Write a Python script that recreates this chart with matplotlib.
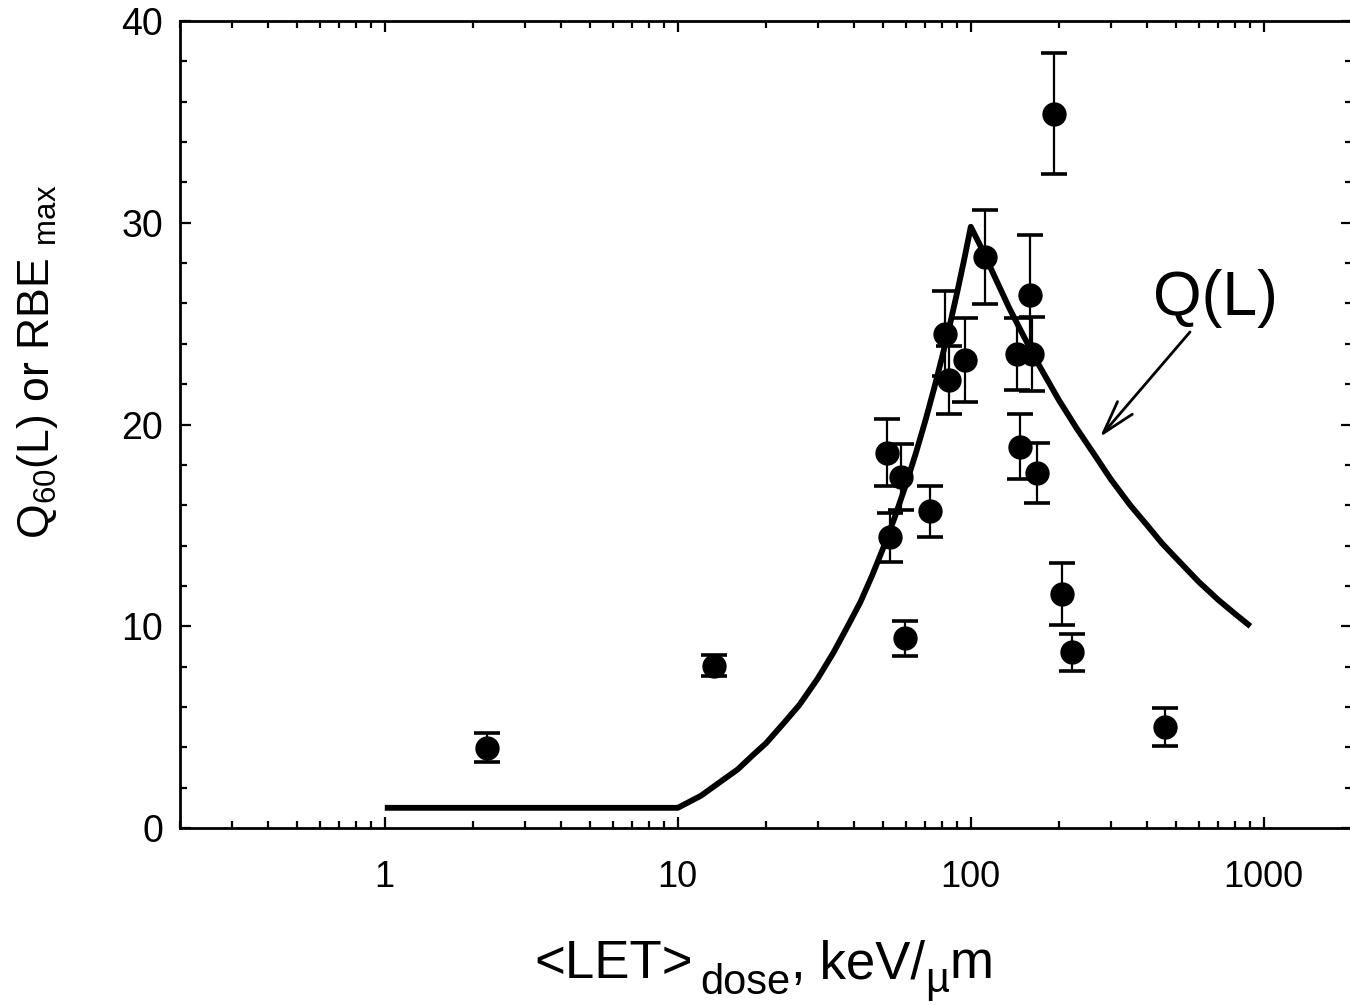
import matplotlib
matplotlib.use("Agg")
import matplotlib.pyplot as plt
from matplotlib.ticker import LogLocator, FixedLocator, NullFormatter, FixedFormatter

plt.rcParams['font.family'] = ['Liberation Sans', 'DejaVu Sans']
plt.rcParams['mathtext.fontset'] = 'custom'
plt.rcParams['mathtext.rm'] = 'Liberation Sans'
plt.rcParams['mathtext.it'] = 'Liberation Sans:italic'
plt.rcParams['mathtext.default'] = 'regular'

# ---- data ----
let_points = [2.24, 13.3, 51.6, 52.8, 58.0, 59.4, 72.4, 81.5, 84.1, 95.3,
              111.7, 143.8, 159.0, 161.8, 147.2, 168.3, 192.4, 205.0, 221.8, 461.7]
rbe_points = [3.97, 8.04, 18.6, 14.4, 17.4, 9.4, 15.7, 24.5, 22.2, 23.2,
              28.3, 23.5, 26.4, 23.5, 18.9, 17.6, 35.4, 11.6, 8.7, 5.0]
rbe_errors = [0.72, 0.52, 1.65, 1.22, 1.65, 0.87, 1.27, 2.1, 1.7, 2.1,
              2.35, 1.8, 3.0, 1.85, 1.6, 1.5, 3.0, 1.55, 0.9, 0.95]

q_curve_let = [1, 10, 12, 14, 16, 18, 20, 23, 26, 30, 34, 38, 42, 46, 50, 55, 60, 65,
               70, 75, 80, 85, 90, 95, 100, 110, 120, 135, 150, 170, 200, 230, 270,
               300, 350, 400, 450, 500, 600, 700, 800, 900]
q_curve_val = [1.0, 1.0, 1.6, 2.3, 2.9, 3.6, 4.2, 5.2, 6.1, 7.4, 8.7, 10.0, 11.2, 12.5,
               13.8, 15.4, 17.0, 18.6, 20.2, 21.8, 23.4, 25.0, 26.6, 28.2, 29.8,
               28.6, 27.4, 25.8, 24.5, 23.0, 21.2, 19.8, 18.3, 17.3, 16.0, 15.0,
               14.1, 13.4, 12.2, 11.3, 10.6, 10.0]

x_ticks = [1, 10, 100, 1000]
x_tick_labels = ['1', '10', '100', '1000']
y_ticks = [0, 10, 20, 30, 40]

W, H = 1350, 1005
fig = plt.figure(figsize=(W / 100, H / 100), dpi=100)
fig.patch.set_facecolor('white')

left_px, right_px, top_px, bottom_px = 180, 1352, 21, 828
ax = fig.add_axes([left_px / W, (H - bottom_px) / H,
                   (right_px - left_px) / W, (bottom_px - top_px) / H])

ax.plot(q_curve_let, q_curve_val, color='black', lw=4.2, solid_capstyle='butt',
        solid_joinstyle='round', zorder=2)
ax.errorbar(let_points, rbe_points, yerr=rbe_errors, fmt='o', color='black',
            ms=16.5, elinewidth=1.6, capsize=9.5, capthick=2.6, zorder=3)

ax.set_xscale('log')
ax.set_xlim(0.2, 2000)
ax.set_ylim(0, 40)

ax.xaxis.set_major_locator(FixedLocator(x_ticks))
ax.xaxis.set_major_formatter(FixedFormatter(x_tick_labels))
ax.xaxis.set_minor_locator(LogLocator(base=10, subs=[2, 3, 4, 5, 6, 7, 8, 9], numticks=20))
ax.xaxis.set_minor_formatter(NullFormatter())
ax.yaxis.set_major_locator(FixedLocator(y_ticks))
ax.yaxis.set_minor_locator(FixedLocator(list(range(0, 41, 2))))

ax.tick_params(which='both', direction='in', top=True, right=True, width=1.6, colors='black')
ax.tick_params(which='major', length=8)
ax.tick_params(which='minor', length=5)
ax.tick_params(axis='x', which='major', labelsize=26, pad=23)
ax.tick_params(axis='y', which='major', labelsize=27, pad=12)
for s in ax.spines.values():
    s.set_linewidth(2.0)

# y-axis label
fig.text(38 / W, (H - 362) / H, r'Q$_{60}$(L) or RBE $_{max}$', rotation=90,
         fontsize=32, ha='center', va='center')

# x-axis label, set in pieces laid out one after another
xlabel_pieces = [('<LET>', 0, 38), (' ', 0, 24), ('dose', 16, 30), (',', 0, 38),
                 (' keV/', 0, 38), ('µ', 14, 30), ('m', 0, 38)]
renderer = fig.canvas.get_renderer()
base_y = 978
texts = []
widths = []
for txt, drop, fs in xlabel_pieces:
    t = fig.text(0, (H - base_y - drop) / H, txt, fontsize=fs, ha='left', va='baseline')
    texts.append(t)
    widths.append(t.get_window_extent(renderer).width if txt.strip() else fs * 0.3)
total = sum(widths)
xcur = 764 - total / 2
for t, w in zip(texts, widths):
    t.set_x(xcur / W)
    xcur += w

ax.annotate('', xy=(1100 / W, (H - 437) / H), xycoords='figure fraction',
            xytext=(1190 / W, (H - 332) / H), textcoords='figure fraction',
            arrowprops=dict(arrowstyle='->,head_length=2.4,head_width=0.7', lw=2.0,
                            color='black', shrinkA=0, shrinkB=0))
fig.text(1215 / W, (H - 298) / H, 'Q(L)', fontsize=45, ha='center', va='center')

fig.savefig('out.png', dpi=100, facecolor='white')
